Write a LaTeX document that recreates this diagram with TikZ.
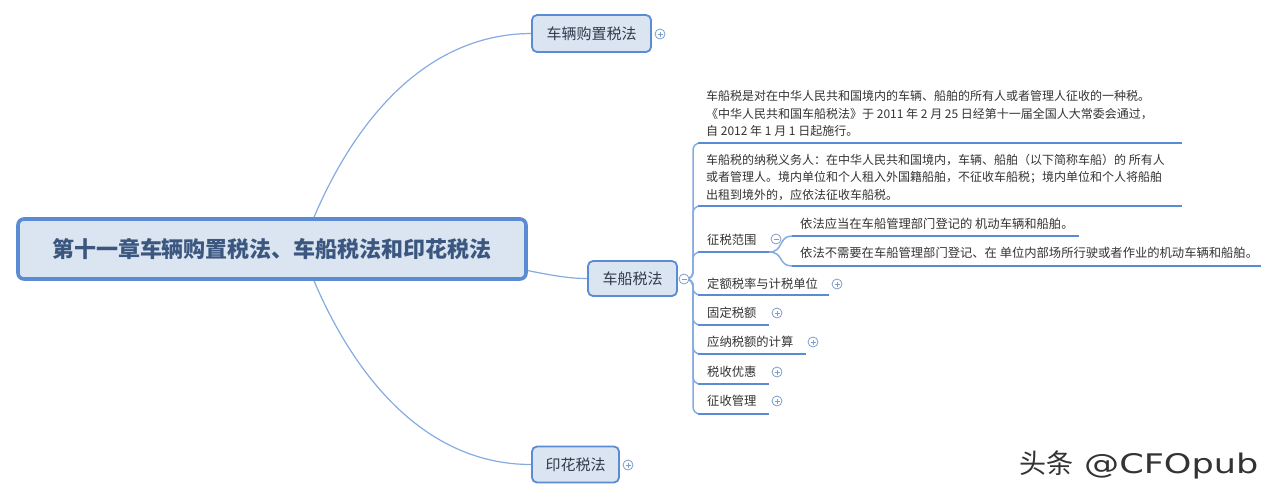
\documentclass[tikz,border=0pt]{standalone}
\usepackage{fontspec}
\setmainfont{Noto Sans CJK SC}
\newfontfamily\wmlatin{DejaVu Sans}
\usetikzlibrary{backgrounds,calc}
\definecolor{boxfill}{HTML}{DBE5F1}
\definecolor{boxline}{HTML}{5B8BD3}
\definecolor{conn}{HTML}{86ABE0}
\definecolor{uline}{HTML}{5A8CD6}
\definecolor{roottext}{HTML}{3B5780}
\definecolor{labtext}{HTML}{2F3A4C}
\definecolor{smalltext}{HTML}{333333}
\definecolor{circline}{HTML}{7D9DCB}
\tikzset{
 rootbox/.style={draw=boxline, line width=3.6pt, fill=boxfill, rounded corners=6pt,
   font=\fontsize{22}{26}\selectfont\bfseries, text=roottext, inner sep=0pt,
   minimum width=508pt, minimum height=60pt},
 topicbox/.style={draw=boxline, line width=1.8pt, fill=boxfill, rounded corners=5pt,
   font=\fontsize{15}{18}\selectfont, text=labtext, inner sep=0pt},
 para/.style={font=\fontsize{12}{17.5}\selectfont, text=smalltext, align=left, inner sep=0pt, anchor=west},
 item/.style={font=\fontsize{12.3}{14}\selectfont, text=smalltext, inner sep=0pt, anchor=west},
 toggle/.style={circle, draw=circline, line width=0.8pt, fill=white, minimum size=10pt, inner sep=0pt},
 tplus/.style={toggle, path picture={
   \draw[circline, line width=0.8pt] ([xshift=-2.5pt]path picture bounding box.center) -- ([xshift=2.5pt]path picture bounding box.center);
   \draw[circline, line width=0.8pt] ([yshift=-2.5pt]path picture bounding box.center) -- ([yshift=2.5pt]path picture bounding box.center);}},
 tminus/.style={toggle, path picture={
   \draw[circline, line width=0.8pt] ([xshift=-2.5pt]path picture bounding box.center) -- ([xshift=2.5pt]path picture bounding box.center);}},
 mainconn/.style={draw=conn, line width=1.2pt},
 stem/.style={draw=conn, line width=1.5pt},
 underl/.style={draw=uline, line width=2.6pt},
}
\begin{document}
\begin{tikzpicture}[x=1pt,y=-1pt]
\useasboundingbox (0,0) rectangle (1280,499);
% root and main topics
\node[rootbox] (root) at (272,249) {第十一章车辆购置税法、车船税法和印花税法};
\node[topicbox, minimum width=119pt, minimum height=37pt] (c1) at (591.5,33.5) {车辆购置税法};
\node[topicbox, minimum width=89pt, minimum height=35pt] (c2) at (632.5,278.5) {车船税法};
\node[topicbox, minimum width=87pt, minimum height=36pt] (c3) at (575.5,464.5) {印花税法};
\node[tplus] (m1) at (660,34) {};
\node[tminus] (m2) at (684,279) {};
\node[tplus] (m3) at (628,465) {};
\coordinate (r1) at (312,222);
\coordinate (r2) at (312,276);
\coordinate (r3) at (505,266);
% sub items of 车船税法
\node[para] (p1) at (706,113.5) {车船税是对在中华人民共和国境内的车辆、船舶的所有人或者管理人征收的一种税。\\《中华人民共和国车船税法》于 2011 年 2 月 25 日经第十一届全国人大常委会通过，\\自 2012 年 1 月 1 日起施行。};
\node[para] (p2) at (706,177.5) {车船税的纳税义务人：在中华人民共和国境内，车辆、船舶（以下简称车船）的 所有人\\或者管理人。境内单位和个人租入外国籍船舶，不征收车船税；境内单位和个人将船舶\\出租到境外的，应依法征收车船税。};
\node[item] (t3) at (707,240) {征税范围};
\node[tminus] (g3) at (776,239) {};
\node[item] (s1) at (800,224) {依法应当在车船管理部门登记的 机动车辆和船舶。};
\node[item] (s2) at (800,253) {依法不需要在车船管理部门登记、在 单位内部场所行驶或者作业的机动车辆和船舶。};
\node[item] (t4) at (707,284) {定额税率与计税单位};
\node[tplus] (g4) at (837,284) {};
\node[item] (t5) at (707,313) {固定税额};
\node[tplus] (g5) at (777,313) {};
\node[item] (t6) at (707,342) {应纳税额的计算};
\node[tplus] (g6) at (813,342) {};
\node[item] (t7) at (707,372) {税收优惠};
\node[tplus] (g7) at (777,372) {};
\node[item] (t8) at (707,401) {征收管理};
\node[tplus] (g8) at (777,401) {};
% underline coordinates
\coordinate (u1a) at (698,143); \coordinate (u1b) at (1182,143);
\coordinate (u2a) at (698,206); \coordinate (u2b) at (1182,206);
\coordinate (u3a) at (698,252); \coordinate (u3b) at (769,252);
\coordinate (v1a) at (792,236); \coordinate (v1b) at (1079,236);
\coordinate (v2a) at (792,266); \coordinate (v2b) at (1261,266);
\coordinate (u4a) at (698,295); \coordinate (u4b) at (829,295);
\coordinate (u5a) at (698,325); \coordinate (u5b) at (769,325);
\coordinate (u6a) at (698,354); \coordinate (u6b) at (806,354);
\coordinate (u7a) at (698,384); \coordinate (u7b) at (769,384);
\coordinate (u8a) at (698,414); \coordinate (u8b) at (769,414);
\foreach \k in {u1,u2,u3,v1,v2,u4,u5,u6,u7,u8} \draw[underl] (\k a) -- (\k b);
\begin{pgfonlayer}{background}
\draw[mainconn] (r1) .. controls (350,130) and (420,34) .. (c1.west);
\draw[mainconn] (r2) .. controls (350,368) and (420,464.5) .. (c3.west);
\draw[mainconn] (r3) .. controls (545,274) and (565,278.5) .. (c2.west);
\foreach \k in {u1a,u2a,u3a,u4a,u5a,u6a,u7a,u8a}
  \draw[stem, rounded corners=7pt] (m2.center) -| ([xshift=-5pt]\k) -- (\k);
\draw[stem] (u3b) .. controls (784,252) and (778,236) .. (v1a);
\draw[stem] (u3b) .. controls (784,252) and (778,266) .. (v2a);
\end{pgfonlayer}
% watermark
\node[font=\fontsize{27}{30}\selectfont, text=black!80, anchor=west, inner sep=0pt] (wm) at (1019,465) {头条\hspace{11pt}{\wmlatin\scalebox{1.3}[1]{@CFOpub}}};
\end{tikzpicture}
\end{document}
